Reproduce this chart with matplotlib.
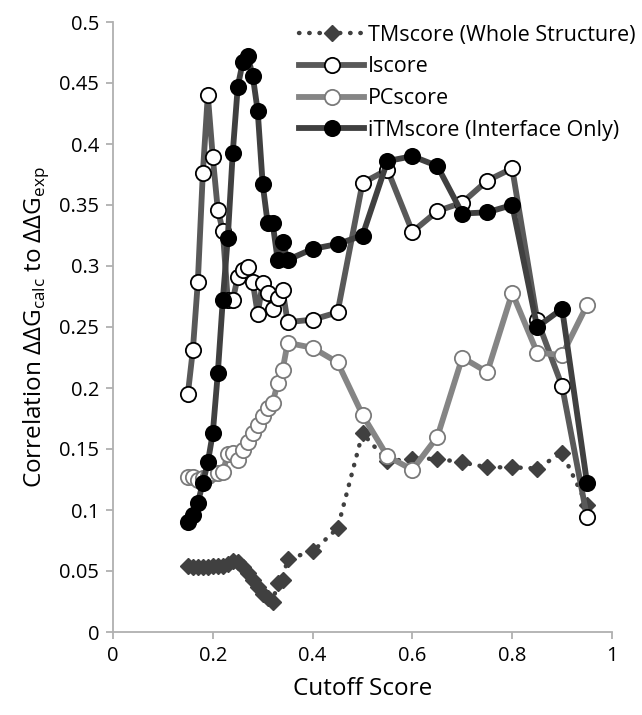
import matplotlib
matplotlib.use("Agg")
import matplotlib.pyplot as plt
from matplotlib.ticker import FuncFormatter, MultipleLocator

plt.rcParams['font.family'] = ['Open Sans', 'DejaVu Sans']
plt.rcParams['mathtext.fontset'] = 'custom'
plt.rcParams['mathtext.rm'] = 'Open Sans'

cutoff = [0.15, 0.16, 0.17, 0.18, 0.19, 0.20, 0.21, 0.22, 0.23, 0.24, 0.25,
          0.26, 0.27, 0.28, 0.29, 0.30, 0.31, 0.32, 0.33, 0.34, 0.35,
          0.40, 0.45, 0.50, 0.55, 0.60, 0.65, 0.70, 0.75, 0.80, 0.85, 0.90, 0.95]

tmscore = [0.054, 0.053, 0.053, 0.053, 0.053, 0.054, 0.054, 0.054, 0.056, 0.058, 0.057,
           0.053, 0.048, 0.043, 0.037, 0.031, 0.028, 0.025, 0.040, 0.043, 0.060,
           0.066, 0.085, 0.163, 0.140, 0.142, 0.142, 0.139, 0.135, 0.135, 0.134, 0.147, 0.104]

iscore = [0.195, 0.231, 0.287, 0.376, 0.440, 0.389, 0.346, 0.329, 0.272, 0.272, 0.291,
          0.297, 0.299, 0.287, 0.261, 0.286, 0.278, 0.265, 0.274, 0.280, 0.254,
          0.256, 0.262, 0.368, 0.379, 0.328, 0.345, 0.352, 0.370, 0.380, 0.256, 0.2015, 0.094]

pcscore = [0.127, 0.127, 0.125, 0.126, 0.128, 0.130, 0.130, 0.131, 0.146, 0.147, 0.141,
           0.149, 0.156, 0.163, 0.170, 0.177, 0.184, 0.188, 0.204, 0.215, 0.237,
           0.233, 0.221, 0.178, 0.144, 0.133, 0.160, 0.225, 0.213, 0.278, 0.229, 0.227, 0.268]

itmscore = [0.090, 0.096, 0.106, 0.122, 0.139, 0.163, 0.212, 0.272, 0.323, 0.393, 0.447,
            0.467, 0.472, 0.456, 0.427, 0.367, 0.335, 0.335, 0.305, 0.320, 0.305,
            0.314, 0.318, 0.325, 0.386, 0.390, 0.382, 0.343, 0.344, 0.350, 0.250, 0.265, 0.122]

labels = ['TMscore (Whole Structure)', 'Iscore', 'PCscore', 'iTMscore (Interface Only)']

fig = plt.figure(figsize=(6.42, 7.15), dpi=100)
ax = fig.add_axes([113/642, 1-632/715, (612-113)/642, (632-22)/715])

ax.plot(cutoff, tmscore, linestyle=(0, (0.1, 2.2)), dash_capstyle='round',
        color='#404040', lw=3.2, marker='D', ms=8, mfc='#404040', mec='#404040',
        label=labels[0])
ax.plot(cutoff, iscore, color='#595959', lw=4.2, marker='o', ms=11,
        mfc='white', mec='black', mew=1.3, label=labels[1])
ax.plot(cutoff, pcscore, color='#858585', lw=4.2, marker='o', ms=11,
        mfc='white', mec='#7a7a7a', mew=1.3, label=labels[2])
ax.plot(cutoff, itmscore, color='#404040', lw=4.2, marker='o', ms=11,
        mfc='black', mec='black', mew=1.3, label=labels[3])

ax.set_xlim(0, 1)
ax.set_ylim(0, 0.5)
ax.xaxis.set_major_locator(MultipleLocator(0.2))
ax.yaxis.set_major_locator(MultipleLocator(0.05))
fmt = FuncFormatter(lambda v, p: '{:g}'.format(round(v, 3)))
ax.xaxis.set_major_formatter(fmt)
ax.yaxis.set_major_formatter(fmt)

for s in ['top', 'right']:
    ax.spines[s].set_visible(False)
for s in ['left', 'bottom']:
    ax.spines[s].set_color('#b0b0b0')
    ax.spines[s].set_linewidth(1.3)
ax.tick_params(axis='both', direction='out', length=5, width=1.3, color='#b0b0b0',
               labelsize=14.5, labelcolor='black', pad=5)

ax.set_xlabel('Cutoff Score', fontsize=17.5, labelpad=8)
ax.set_ylabel(r'Correlation ΔΔG$_{\mathregular{calc}}$ to ΔΔG$_{\mathregular{exp}}$',
              fontsize=17.5, labelpad=6)

leg = ax.legend(loc='upper right', bbox_to_anchor=(1.065, 1.01), frameon=False,
                fontsize=15.5, handlelength=3.0, handletextpad=0.2, labelspacing=0.5,
                borderaxespad=0.0)

fig.savefig('out.png', dpi=100)
